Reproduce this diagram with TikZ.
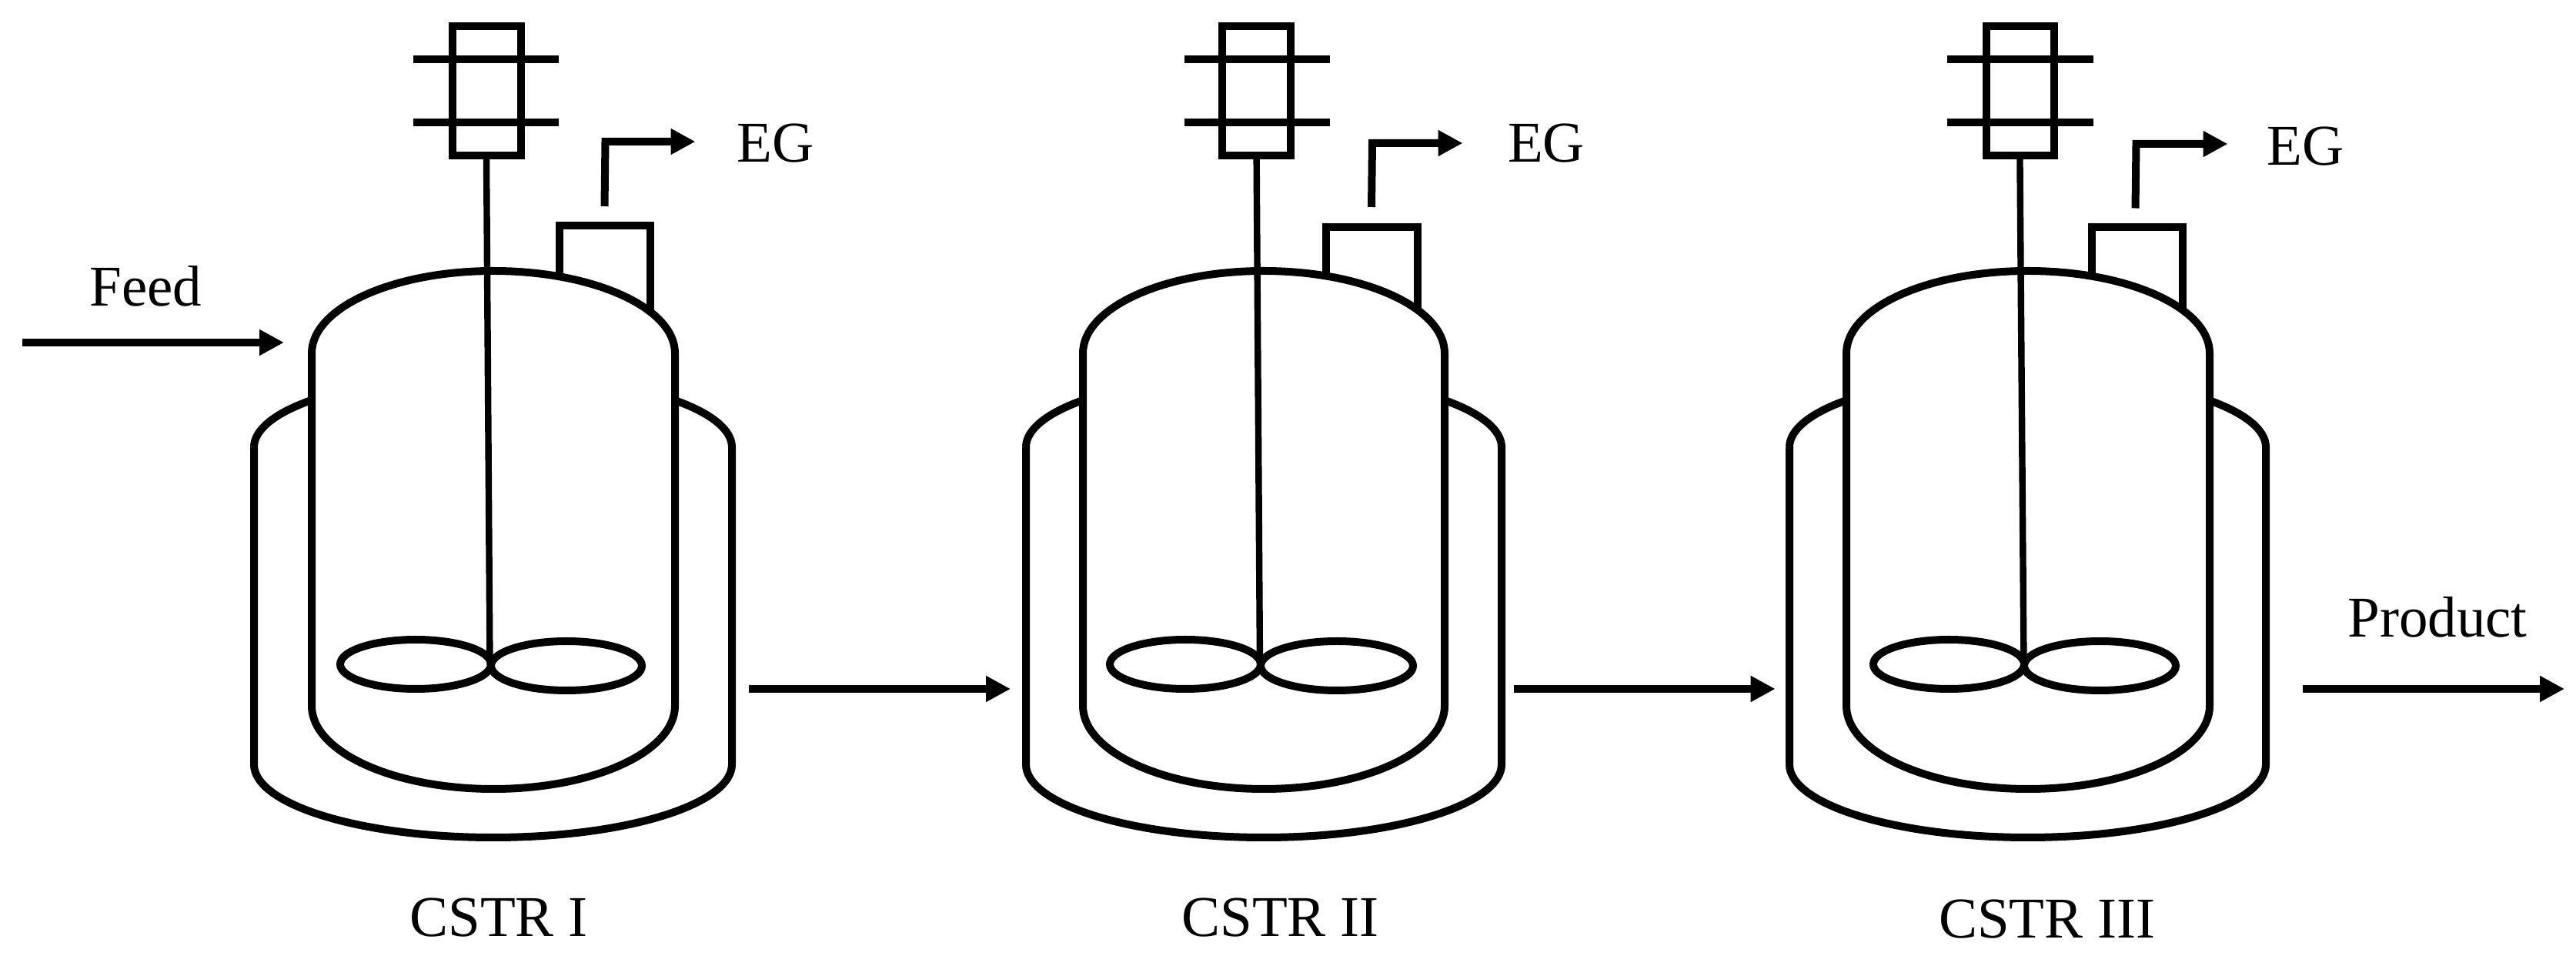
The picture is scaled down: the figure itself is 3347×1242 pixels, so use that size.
\documentclass[tikz,border=0pt]{standalone}
\usepackage{fontspec}
\setmainfont{Liberation Serif}
\usetikzlibrary{arrows.meta}
\tikzset{
  x=0.5pt,y=0.5pt,
  wall/.style={draw=black,line width=5pt,line join=miter},
  shaftline/.style={draw=black,line width=4.2pt},
  flow/.style={draw=black,line width=5pt,line join=miter,-{Triangle[length=16pt,width=16pt]}},
  label/.style={anchor=base west,inner sep=0pt,font=\fontsize{37.5}{40}\selectfont,text=black}
}
\begin{document}
\begin{tikzpicture}
\useasboundingbox (0,0) rectangle (3347,1242);
% reactors: vessel centre/half width, jacket centre/half width, motor box, bars, shaft, nozzle, impellers
\foreach \vc/\vh/\jc/\jh/\bl/\br/\ba/\bb/\st/\sb/\nl/\nr/\nt/\nb/\il/\ir/\irx in {
  641/236/640.5/310.5/588/677/537/726/632/636.5/727/845/949/837/540/736/98,
  1642/235/1642/309/1588/1677/1538.5/1728/1632.6/1637/1723/1841.6/947.4/841/1540/1737/99,
  2635/236/2634.5/309.5/2581/2669/2529.7/2720/2624.4/2629.5/2717.7/2835.6/946.6/841/2532/2728.5/98.5}{
  % jacket
  \path[wall] (\jc-\jh,661) arc[start angle=180,end angle=139.2,x radius=\jh,y radius=94];
  \path[wall] (\jc-\jh,661) -- (\jc-\jh,249)
     arc[start angle=180,end angle=360,x radius=\jh,y radius=95]
     -- (\jc+\jh,661) arc[start angle=0,end angle=40.8,x radius=\jh,y radius=94];
  % nozzle
  \path[wall] (\nl,886) -- (\nl,\nt) -- (\nr,\nt) -- (\nr,\nb);
  % vessel
  \path[wall] (\vc-\vh,783) arc[start angle=180,end angle=0,x radius=\vh,y radius=107]
     -- (\vc+\vh,325) arc[start angle=360,end angle=180,x radius=\vh,y radius=108] -- cycle;
  % shaft
  \path[shaftline] (\st,1040) -- (\sb,378);
  % motor
  \path[wall] (\bl,1040.3) rectangle (\br,1208.4);
  \path[wall] (\ba,1164.5) -- (\bb,1164.5);
  \path[wall] (\ba,1083.4) -- (\bb,1083.4);
  % impellers
  \path[wall] (\il,379) ellipse[x radius=98,y radius=32];
  \path[wall] (\ir,377) ellipse[x radius=\irx,y radius=32];
}
% labels
\node[label] (feed) at (116,844.6) {Feed};
\node[label] (product) at (3050,414) {Product};
\node[label] (eg1) at (957,1031) {EG};
\node[label] (eg2) at (1958.6,1031) {EG};
\node[label] (eg3) at (2945,1027.5) {EG};
\node[label] (cstr1) at (532,25) {CSTR I};
\node[label] (cstr2) at (1535,25) {CSTR II};
\node[label] (cstr3) at (2518.6,23) {CSTR III};
% flow connector end points
\coordinate (fs) at (29,797);
\coordinate (fe) at (369,797);
\coordinate (a1s) at (973,347);
\coordinate (a1e) at (1313,347);
\coordinate (a2s) at (1966.5,347);
\coordinate (a2e) at (2306.6,347);
\coordinate (ps) at (2992,347);
\coordinate (pe) at (3332,347);
\coordinate (e1s) at (785.5,974);
\coordinate (e1c) at (786.5,1058);
\coordinate (e1e) at (903.5,1058);
\coordinate (e2s) at (1782,973);
\coordinate (e2c) at (1783,1056);
\coordinate (e2e) at (1900.5,1056);
\coordinate (e3s) at (2774.5,971.5);
\coordinate (e3c) at (2775.5,1055);
\coordinate (e3e) at (2894.5,1055);
\draw[flow] (fs) -- (fe);
\draw[flow] (a1s) -- (a1e);
\draw[flow] (a2s) -- (a2e);
\draw[flow] (ps) -- (pe);
\draw[flow] (e1s) -- (e1c) -- (e1e);
\draw[flow] (e2s) -- (e2c) -- (e2e);
\draw[flow] (e3s) -- (e3c) -- (e3e);
\end{tikzpicture}
\end{document}
